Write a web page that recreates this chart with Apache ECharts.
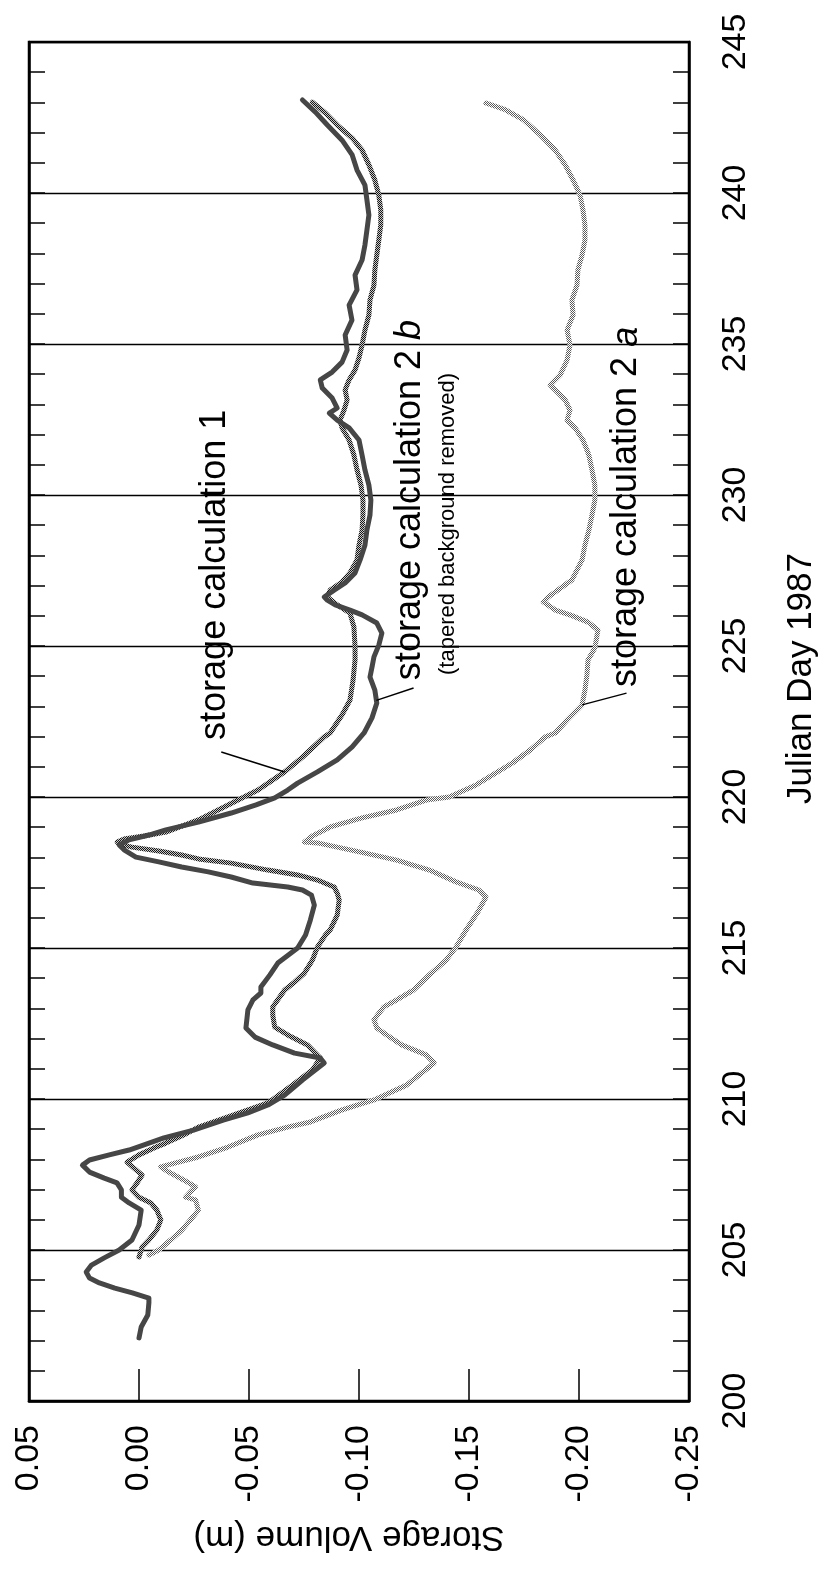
<!DOCTYPE html>
<html>
<head>
<meta charset="utf-8">
<script src="https://cdn.jsdelivr.net/npm/echarts@6/dist/echarts.min.js"></script>
<style>
  html, body { margin: 0; padding: 0; background: #ffffff; }
  #chart { width: 827px; height: 1569px; }
</style>
</head>
<body>
<div id="chart"></div>
<script>
// Axis ranges / tick labels
const dayTicks = [200, 205, 210, 215, 220, 225, 230, 235, 240, 245];
const volumeTicks = [0.05, 0.00, -0.05, -0.10, -0.15, -0.20, -0.25];

// storage calculation 1
const calc1Days = [204.77,205.10,205.33,205.66,206.00,206.32,206.56,206.75,206.99,207.22,207.48,207.71,207.91,208.15,208.38,208.54,208.81,209.07,209.47,209.87,210.46,210.96,211.36,211.79,212.12,212.38,212.78,213.05,213.61,213.87,214.17,214.60,215.03,215.43,215.60,216.09,216.59,216.82,217.02,217.25,217.42,217.58,217.81,217.95,218.08,218.21,218.34,218.44,218.51,218.61,218.71,218.84,219.24,219.90,220.23,220.83,221.32,221.99,222.12,222.72,223.21,223.87,224.54,224.97,225.63,226.09,226.36,226.62,226.85,227.12,227.42,227.85,228.34,228.84,229.34,229.83,230.33,230.83,231.32,231.82,232.22,232.48,232.81,233.15,233.48,233.81,234.14,234.54,234.97,235.46,235.96,236.46,236.95,237.45,237.95,238.44,238.94,239.44,239.93,240.43,240.93,241.42,241.82,242.25,242.65,243.01];
const calc1Values = [0.000,-0.0014,-0.0045,-0.0081,-0.0099,-0.0081,-0.0054,0.000,0.0032,0.0009,-0.0014,0.0023,0.0054,0.000,-0.0068,-0.0122,-0.0203,-0.0270,-0.0428,-0.0586,-0.0698,-0.0788,-0.0824,-0.0766,-0.0676,-0.0617,-0.0608,-0.0608,-0.0662,-0.0707,-0.0752,-0.0788,-0.0811,-0.0847,-0.0869,-0.0901,-0.0910,-0.0901,-0.0887,-0.0811,-0.0721,-0.0586,-0.0419,-0.0270,-0.0194,-0.0090,0.0032,0.0090,0.0099,0.0068,-0.0023,-0.0122,-0.0270,-0.0450,-0.0541,-0.0662,-0.0743,-0.0842,-0.0869,-0.0923,-0.0959,-0.0973,-0.0982,-0.0982,-0.0977,-0.0959,-0.0901,-0.0856,-0.0869,-0.0923,-0.0959,-0.0991,-0.1000,-0.1014,-0.1018,-0.1018,-0.1009,-0.0991,-0.0977,-0.0955,-0.0923,-0.0914,-0.0932,-0.0946,-0.0937,-0.0955,-0.0982,-0.1000,-0.1014,-0.1027,-0.1045,-0.1050,-0.1068,-0.1072,-0.1081,-0.1090,-0.1099,-0.1099,-0.1090,-0.1072,-0.1045,-0.1014,-0.0969,-0.0901,-0.0847,-0.0788];

// storage calculation 2a
const calc2aDays = [204.83,205.00,205.33,205.66,206.00,206.32,206.66,206.75,206.92,207.09,207.32,207.58,207.75,207.91,208.08,208.41,208.81,209.07,209.24,209.64,209.97,210.46,211.19,211.46,211.79,212.12,212.35,212.62,212.88,213.05,213.28,213.61,214.11,214.60,215.03,215.60,216.19,216.69,216.92,217.19,217.58,217.91,218.15,218.34,218.48,218.51,218.71,219.01,219.31,219.57,219.90,220.00,220.40,221.13,221.56,221.99,222.12,222.55,223.05,223.54,224.04,224.54,224.93,225.53,225.79,226.03,226.19,226.46,226.62,226.79,227.19,227.85,228.34,228.84,229.34,229.83,230.33,230.83,231.32,231.82,232.22,232.48,232.81,233.15,233.41,233.64,233.97,234.47,234.97,235.46,235.96,236.46,236.95,237.45,237.95,238.44,238.94,239.44,239.93,240.43,240.93,241.42,241.92,242.42,242.75,242.98];
const calc2aValues = [-0.0045,-0.0090,-0.0144,-0.0194,-0.0234,-0.0270,-0.0257,-0.0212,-0.0234,-0.0257,-0.0203,-0.0135,-0.0099,-0.0180,-0.0270,-0.0405,-0.0541,-0.0676,-0.0779,-0.0923,-0.1068,-0.1216,-0.1342,-0.1306,-0.1194,-0.1126,-0.1081,-0.1068,-0.1095,-0.1113,-0.1171,-0.1248,-0.1320,-0.1396,-0.1441,-0.1487,-0.1540,-0.1577,-0.1545,-0.1441,-0.1320,-0.1171,-0.1023,-0.0901,-0.0811,-0.0752,-0.0788,-0.0869,-0.1014,-0.1171,-0.1306,-0.1410,-0.1532,-0.1698,-0.1779,-0.1847,-0.1892,-0.1946,-0.2014,-0.2027,-0.2036,-0.2041,-0.2072,-0.2086,-0.2041,-0.1959,-0.1892,-0.1838,-0.1860,-0.1892,-0.1968,-0.2014,-0.2027,-0.2045,-0.2059,-0.2072,-0.2072,-0.2059,-0.2045,-0.2018,-0.1982,-0.1946,-0.1959,-0.1937,-0.1901,-0.1869,-0.1914,-0.1946,-0.1959,-0.1946,-0.1973,-0.1968,-0.1991,-0.1995,-0.2014,-0.2027,-0.2027,-0.2018,-0.2005,-0.1973,-0.1937,-0.1892,-0.1824,-0.1748,-0.1667,-0.1577];

// storage calculation 2b (tapered background removed)
const calc2bDays = [202.09,202.45,202.85,203.25,203.41,203.58,203.74,203.91,204.07,204.27,204.50,204.74,205.00,205.33,205.83,206.32,206.56,206.75,206.99,207.22,207.38,207.58,207.81,207.98,208.15,208.31,208.48,208.71,208.97,209.30,209.54,209.80,210.13,210.63,211.19,211.36,211.52,211.79,212.05,212.35,212.68,212.95,213.28,213.51,213.71,214.11,214.50,215.00,215.43,215.93,216.42,216.75,216.92,217.02,217.15,217.35,217.52,217.68,217.85,218.01,218.25,218.41,218.58,218.74,218.91,219.17,219.47,219.74,219.97,220.23,220.46,220.83,221.23,221.66,222.12,222.62,223.11,223.54,223.97,224.30,224.64,225.03,225.43,225.76,226.03,226.19,226.36,226.52,226.62,226.85,227.09,227.42,227.85,228.34,228.84,229.34,229.83,230.33,230.83,231.32,231.82,232.22,232.48,232.71,232.88,233.21,233.54,233.81,234.07,234.40,234.80,235.30,235.79,236.29,236.79,237.28,237.78,238.28,238.77,239.27,239.77,240.26,240.76,241.26,241.75,242.25,242.68,243.08];
const calc2bValues = [0.000,-0.001,-0.004,-0.0045,-0.0045,0.003,0.011,0.018,0.0225,0.024,0.0216,0.0158,0.009,0.0032,0.000,-0.001,0.0045,0.008,0.008,0.010,0.0158,0.0225,0.0257,0.0225,0.0135,0.0045,-0.0023,-0.0113,-0.0248,-0.0383,-0.0495,-0.0586,-0.0662,-0.0743,-0.0842,-0.0824,-0.0707,-0.0608,-0.0527,-0.0486,-0.0491,-0.0495,-0.0518,-0.0554,-0.0554,-0.0595,-0.0631,-0.0721,-0.0757,-0.0779,-0.0797,-0.0784,-0.0743,-0.0676,-0.0518,-0.0419,-0.0315,-0.0194,-0.0090,0.0014,0.0068,0.0090,0.0045,-0.0045,-0.0122,-0.0270,-0.0419,-0.0532,-0.0617,-0.0676,-0.0721,-0.0811,-0.0901,-0.0969,-0.1023,-0.1059,-0.1081,-0.1072,-0.1050,-0.1059,-0.1068,-0.1090,-0.1104,-0.1081,-0.1014,-0.0959,-0.0892,-0.0856,-0.0842,-0.0887,-0.0937,-0.0982,-0.1005,-0.1027,-0.1036,-0.1050,-0.1054,-0.1045,-0.1027,-0.1014,-0.1000,-0.0955,-0.0901,-0.0865,-0.0901,-0.0878,-0.0833,-0.0824,-0.0878,-0.0923,-0.0946,-0.0937,-0.0968,-0.0955,-0.0991,-0.0982,-0.1014,-0.1027,-0.1036,-0.1045,-0.1036,-0.1027,-0.0991,-0.0969,-0.0923,-0.0856,-0.0802,-0.0743];

const FONT = '"Liberation Sans", Arial, Helvetica, sans-serif';

// Dithered stroke textures for the two stippled curves
function checker(dark, light) {
  const c = document.createElement('canvas');
  c.width = 2; c.height = 2;
  const g = c.getContext('2d');
  g.fillStyle = light; g.fillRect(0, 0, 2, 2);
  g.fillStyle = dark; g.fillRect(0, 0, 1, 1); g.fillRect(1, 1, 1, 1);
  return { image: c, repeat: 'repeat' };
}

function pairs(days, values) {
  return days.map((d, i) => [values[i], d]);
}

// Value of a curve at a given day (linear between stored samples)
function valueAt(days, values, day) {
  for (let i = 1; i < days.length; i++) {
    if (days[i] >= day) {
      const t = (day - days[i - 1]) / (days[i] - days[i - 1]);
      return values[i - 1] + t * (values[i] - values[i - 1]);
    }
  }
  return values[values.length - 1];
}

const dayMin = dayTicks[0], dayMax = dayTicks[dayTicks.length - 1];
const volMax = volumeTicks[0], volMin = volumeTicks[volumeTicks.length - 1];

const chart = echarts.init(document.getElementById('chart'), null, { renderer: 'canvas' });

const axisLine = { show: true, onZero: false, lineStyle: { color: '#000', width: 2.5 } };
const tickStyle = { color: '#000', width: 1.5 };

chart.setOption({
  backgroundColor: '#ffffff',
  animation: false,
  grid: {
    left: 29, right: 132, top: 42, bottom: 168,
    show: true, borderColor: '#000', borderWidth: 2.5, backgroundColor: 'transparent'
  },
  xAxis: {
    type: 'value',
    inverse: true,
    min: volMin, max: volMax, interval: 0.05,
    position: 'bottom',
    name: 'Storage Volume (m)',
    nameLocation: 'middle',
    nameRotate: 180,
    nameGap: 118,
    nameTextStyle: { fontFamily: FONT, fontSize: 35, color: '#000', padding: [0, 0, 0, 20] },
    axisLine: axisLine,
    axisTick: { show: true, inside: true, length: 32, lineStyle: tickStyle },
    axisLabel: {
      rotate: 90, margin: 24, fontFamily: FONT, fontSize: 34, color: '#000',
      formatter: v => v.toFixed(2)
    },
    splitLine: { show: false }
  },
  yAxis: [
    {
      type: 'value',
      min: dayMin, max: dayMax, interval: 5,
      position: 'right',
      name: 'Julian Day 1987',
      nameLocation: 'middle',
      nameRotate: 90,
      nameGap: 95,
      nameTextStyle: { fontFamily: FONT, fontSize: 35, color: '#000', padding: [0, 0, 0, 86] },
      axisLine: axisLine,
      axisTick: { show: true, inside: true, length: 16, lineStyle: tickStyle },
      minorTick: { show: true, splitNumber: 5, length: 16, lineStyle: tickStyle },
      axisLabel: { rotate: 90, margin: 30, fontFamily: FONT, fontSize: 34, color: '#000' },
      splitLine: { show: true, lineStyle: { color: '#000', width: 1.4 } }
    },
    {
      type: 'value',
      min: dayMin, max: dayMax, interval: 5,
      position: 'left',
      axisLine: axisLine,
      axisTick: { show: true, inside: true, length: 16, lineStyle: tickStyle },
      minorTick: { show: true, splitNumber: 5, length: 16, lineStyle: tickStyle },
      axisLabel: { show: false },
      splitLine: { show: false }
    }
  ],
  series: [
    {
      name: 'storage calculation 2 a',
      type: 'line', yAxisIndex: 0, showSymbol: false, symbol: 'none',
      data: pairs(calc2aDays, calc2aValues),
      lineStyle: { width: 5, color: checker('#5a5a5a', '#ffffff'), join: 'round', cap: 'round' },
      z: 3
    },
    {
      name: 'storage calculation 1',
      type: 'line', yAxisIndex: 0, showSymbol: false, symbol: 'none',
      data: pairs(calc1Days, calc1Values),
      lineStyle: { width: 5, color: checker('#151515', '#c8c8c8'), join: 'round', cap: 'round' },
      z: 4
    },
    {
      name: 'storage calculation 2 b',
      type: 'line', yAxisIndex: 0, showSymbol: false, symbol: 'none',
      data: pairs(calc2bDays, calc2bValues),
      lineStyle: { width: 5, color: '#464646', join: 'round', cap: 'round' },
      z: 5
    }
  ]
});

// Curve labels with leader lines, placed in data coordinates
const px = (v, d) => chart.convertToPixel({ xAxisIndex: 0, yAxisIndex: 0 }, [v, d]);

function rotatedText(pos, text, size, rich) {
  return {
    type: 'text', x: pos[0], y: pos[1], rotation: Math.PI / 2, z: 20,
    style: {
      text: text, fontFamily: FONT, fontSize: size, fill: '#000',
      align: 'left', verticalAlign: 'middle', rich: rich || undefined
    }
  };
}

function leader(from, to) {
  return {
    type: 'line', z: 20,
    shape: { x1: from[0], y1: from[1], x2: to[0], y2: to[1] },
    style: { stroke: '#000', lineWidth: 1.5 }
  };
}

const d1 = 220.83, d2b = 223.2, d2a = 223.05;
chart.setOption({
  graphic: [
    rotatedText(px(-0.0347, 221.89), 'storage calculation 1', 36),
    leader(px(-0.0374, 221.49), px(valueAt(calc1Days, calc1Values, d1), d1)),

    rotatedText(px(-0.1234, 223.87), 'storage calculation 2 {it|b}', 36,
      { it: { fontStyle: 'italic', fontFamily: FONT, fontSize: 36, fill: '#000' } }),
    rotatedText(px(-0.1405, 224.04), '(tapered background removed)', 22),
    leader(px(-0.1248, 223.61), px(valueAt(calc2bDays, calc2bValues, d2b), d2b)),

    rotatedText(px(-0.2216, 223.64), 'storage calculation 2 {it|a}', 36,
      { it: { fontStyle: 'italic', fontFamily: FONT, fontSize: 36, fill: '#000' } }),
    leader(px(-0.2216, 223.44), px(valueAt(calc2aDays, calc2aValues, d2a), d2a))
  ]
});
</script>
</body>
</html>
